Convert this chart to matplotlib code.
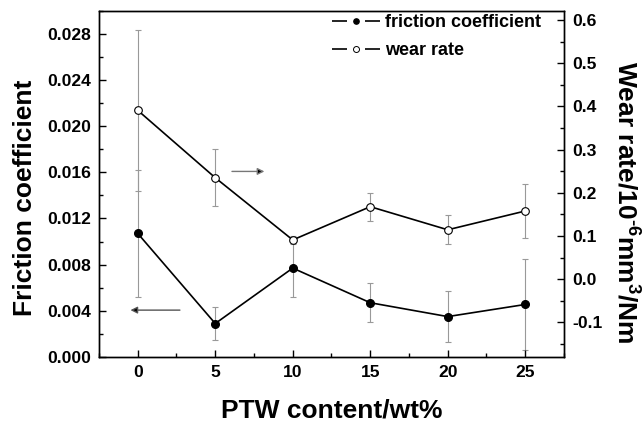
import matplotlib
matplotlib.use('Agg')
import matplotlib.pyplot as plt
from matplotlib.lines import Line2D
from matplotlib.ticker import MultipleLocator, FormatStrFormatter

plt.rcParams['font.family'] = 'Liberation Sans'
plt.rcParams['font.weight'] = 'bold'
plt.rcParams['axes.unicode_minus'] = False
plt.rcParams['mathtext.fontset'] = 'custom'
plt.rcParams['mathtext.bf'] = 'Liberation Sans:bold'
plt.rcParams['mathtext.rm'] = 'Liberation Sans:bold'
plt.rcParams['mathtext.default'] = 'bf'

# data
ptw = [0, 5, 10, 15, 20, 25]
friction = [0.0107, 0.0029, 0.0077, 0.0047, 0.0035, 0.00455]
friction_err = [0.0055, 0.0014, 0.0025, 0.0017, 0.0022, 0.0039]
wear = [0.391, 0.235, 0.091, 0.168, 0.1145, 0.158]
wear_err = [0.187, 0.066, 0.01, 0.032, 0.034, 0.063]

fig = plt.figure(figsize=(6.42, 4.22), dpi=100)
ax = fig.add_axes([0.1542, 0.154, 0.7243, 0.821])
ax2 = ax.twinx()

# Fehlerbalken grau, Linien schwarz
ax.errorbar(ptw, friction, yerr=friction_err, fmt='none', ecolor='#999999',
            elinewidth=0.8, capsize=2.5, capthick=0.8, zorder=1)
ax2.errorbar(ptw, wear, yerr=wear_err, fmt='none', ecolor='#999999',
             elinewidth=0.8, capsize=2.5, capthick=0.8, zorder=1)
ax.plot(ptw, friction, '-o', color='black', lw=1.2, ms=5.5,
        mfc='black', mec='black', zorder=3)
ax2.plot(ptw, wear, '-o', color='black', lw=1.2, ms=5.5,
         mfc='white', mec='black', mew=0.8, zorder=3)

# Pfeile
ax.annotate('', xy=(-0.65, 0.00406), xytext=(2.9, 0.00406),
            arrowprops=dict(arrowstyle='-|>', ec='#555555', fc='black', lw=1.0,
                            mutation_scale=10))
ax.annotate('', xy=(8.35, 0.01607), xytext=(5.9, 0.01607),
            arrowprops=dict(arrowstyle='-|>', ec='#777777', fc='black', lw=1.0,
                            mutation_scale=10))

ax.set_xlim(-2.5, 27.5)
ax.set_ylim(0, 0.030)
ax2.set_ylim(-0.18, 0.622)

ax.xaxis.set_major_locator(MultipleLocator(5))
ax.xaxis.set_minor_locator(MultipleLocator(2.5))
ax.yaxis.set_major_locator(MultipleLocator(0.004))
ax.yaxis.set_minor_locator(MultipleLocator(0.002))
ax.yaxis.set_major_formatter(FormatStrFormatter('%.3f'))
ax2.yaxis.set_major_locator(MultipleLocator(0.1))
ax2.yaxis.set_minor_locator(MultipleLocator(0.05))
ax2.yaxis.set_major_formatter(FormatStrFormatter('%.1f'))

for a in (ax, ax2):
    a.tick_params(which='major', direction='in', length=5, width=1,
                  labelsize=12.6, pad=6)
    a.tick_params(which='minor', direction='in', length=3, width=1)
    for s in a.spines.values():
        s.set_linewidth(1.0)

ax.set_xlabel('PTW content/wt%', fontsize=19, fontweight='bold')
ax.xaxis.set_label_coords(0.5, -0.176)
ax.xaxis.label.set_va('baseline')
ax.set_ylabel('Friction coefficient', fontsize=19, fontweight='bold')
ax.yaxis.set_label_coords(-0.1438, 0.46)
ax.yaxis.label.set_va('baseline')
ax2.set_ylabel(r'Wear rate/10$^{\text{-6}}$mm$^{3}$/Nm', fontsize=19,
               fontweight='bold', rotation=-90)
ax2.yaxis.set_label_coords(1.1137, 0.446)
ax2.yaxis.label.set_va('baseline')
ax2.yaxis.label.set_ha('center')

# Legende: Linie mit Lücke um den Marker
dash = (0, (9, 10.8))
h1 = (Line2D([], [], color='black', lw=1.2, ls=dash),
      Line2D([], [], ls='none', marker='o', ms=3.8, mfc='black', mec='black'))
h2 = (Line2D([], [], color='black', lw=1.2, ls=dash),
      Line2D([], [], ls='none', marker='o', ms=4.3, mfc='white', mec='black',
             mew=0.7))
ax2.legend([h1, h2], ['friction coefficient', 'wear rate'], loc='upper left',
           bbox_to_anchor=(0.501, 0.99), frameon=False, fontsize=13,
           handlelength=2.7, handletextpad=0.22, labelspacing=0.62,
           borderpad=0, borderaxespad=0)

fig.savefig('out.png', dpi=100)
